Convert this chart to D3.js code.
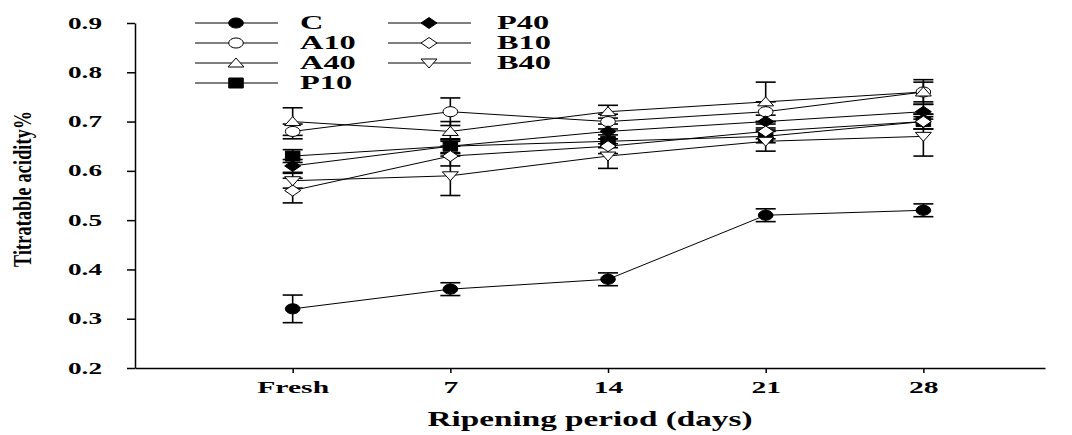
<!DOCTYPE html>
<html>
<head>
<meta charset="utf-8">
<script src="https://cdn.jsdelivr.net/npm/d3@7"></script>
<style>
  body { margin: 0; background: #fff; }
  text { font-family: "Liberation Serif", "DejaVu Serif", serif; font-weight: bold; fill: #000; }
</style>
</head>
<body>
<div id="chart"></div>
<script>
var svgWidth = 1072;
var svgHeight = 435;

// data
var days = [0, 7, 14, 21, 28];
var dayLabels = ["Fresh", "7", "14", "21", "28"];
var yTicks = [0.2, 0.3, 0.4, 0.5, 0.6, 0.7, 0.8, 0.9];

var seriesNames = ["C", "A10", "A40", "P10", "P40", "B10", "B40"];
var valC   = [0.32, 0.36, 0.38, 0.51, 0.52];
var valA10 = [0.68, 0.72, 0.70, 0.72, 0.76];
var valA40 = [0.70, 0.68, 0.72, 0.74, 0.76];
var valP10 = [0.63, 0.65, 0.66, 0.67, 0.70];
var valP40 = [0.61, 0.65, 0.68, 0.70, 0.72];
var valB10 = [0.56, 0.63, 0.65, 0.68, 0.70];
var valB40 = [0.58, 0.59, 0.63, 0.66, 0.67];

var errC   = [0.028, 0.013, 0.013, 0.013, 0.013];
var errA10 = [0.015, 0.028, 0.015, 0.020, 0.020];
var errA40 = [0.028, 0.020, 0.013, 0.040, 0.025];
var errP10 = [0.013, 0.013, 0.013, 0.013, 0.015];
var errP40 = [0.013, 0.015, 0.015, 0.013, 0.015];
var errB10 = [0.025, 0.020, 0.015, 0.015, 0.015];
var errB40 = [0.015, 0.040, 0.025, 0.020, 0.040];

// marker styles per series
var markerType = {
  C: "circle", A10: "circle", A40: "triangle", P10: "square",
  P40: "diamond", B10: "diamond", B40: "triangleDown"
};
var markerFilled = { C: true, A10: false, A40: false, P10: true, P40: true, B10: false, B40: false };

var allVals = { C: valC, A10: valA10, A40: valA40, P10: valP10, P40: valP40, B10: valB10, B40: valB40 };
var allErrs = { C: errC, A10: errA10, A40: errA40, P10: errP10, P40: errP40, B10: errB10, B40: errB40 };

var series = seriesNames.map(function(name) {
  return {
    name: name,
    points: days.map(function(d, i) {
      return { day: d, value: allVals[name][i], err: allErrs[name][i] };
    })
  };
});

var margin = { top: 23, right: 27, bottom: 67, left: 135 };
var width = svgWidth - margin.left - margin.right;
var height = svgHeight - margin.top - margin.bottom;

var svg = d3.select("#chart")
  .append("svg")
  .attr("width", svgWidth)
  .attr("height", svgHeight);

var chartGroup = svg.append("g")
  .attr("transform", `translate(${margin.left}, ${margin.top})`);

var xScale = d3.scaleLinear().domain([-7, 33.4]).range([0, width]);
var yScale = d3.scaleLinear().domain([0.2, 0.9]).range([height, 0]);

// the original picture is stretched sideways, so widen text to match
function stretch(sel, factor) {
  sel.each(function() {
    var len = this.getComputedTextLength();
    d3.select(this)
      .attr("textLength", len * factor)
      .attr("lengthAdjust", "spacingAndGlyphs");
  });
}

// axes
var bottomAxis = d3.axisBottom(xScale)
  .tickValues(days)
  .tickFormat(function(d, i) { return dayLabels[i]; })
  .tickSize(5)
  .tickSizeOuter(0)
  .tickPadding(9);
var leftAxis = d3.axisLeft(yScale)
  .tickValues(yTicks)
  .tickFormat(d3.format(".1f"))
  .tickSize(8)
  .tickSizeOuter(0)
  .tickPadding(25);

var xAxis = chartGroup.append("g")
  .attr("transform", `translate(0, ${height})`)
  .call(bottomAxis);
var yAxis = chartGroup.append("g").call(leftAxis);

[xAxis, yAxis].forEach(function(ax) {
  ax.select(".domain").attr("stroke", "#000").attr("stroke-width", 1.5);
  ax.selectAll(".tick line").attr("stroke", "#000").attr("stroke-width", 1.5);
  ax.selectAll(".tick text").attr("font-size", 16).attr("font-family", null).attr("fill", "#000");
});
stretch(xAxis.selectAll(".tick text"), 1.85);
stretch(yAxis.selectAll(".tick text"), 1.7);

// symbol path for each marker (drawn at unit aspect, then widened)
function markerPath(type) {
  if (type === "circle") return d3.symbol(d3.symbolCircle, 80)();
  if (type === "square") return "M-5,-5L5,-5L5,5L-5,5Z";
  if (type === "triangle" || type === "triangleDown") return "M0,-5L5.5,4L-5.5,4Z";
  return "M0,-5.5L5.5,0L0,5.5L-5.5,0Z";
}
function markerTransform(type, x, y) {
  if (type === "triangleDown") return `translate(${x},${y}) scale(1.45,-1)`;
  return `translate(${x},${y}) scale(1.45,1)`;
}

var line = d3.line()
  .x(function(p) { return xScale(p.day); })
  .y(function(p) { return yScale(p.value); });

// error bars
series.forEach(function(s) {
  var eb = chartGroup.append("g").attr("stroke", "#000").attr("stroke-width", 1.6);
  eb.selectAll("line.v").data(s.points).enter().append("line")
    .attr("x1", p => xScale(p.day)).attr("x2", p => xScale(p.day))
    .attr("y1", p => yScale(p.value - p.err)).attr("y2", p => yScale(p.value + p.err));
  eb.selectAll("line.top").data(s.points).enter().append("line")
    .attr("x1", p => xScale(p.day) - 10).attr("x2", p => xScale(p.day) + 10)
    .attr("y1", p => yScale(p.value + p.err)).attr("y2", p => yScale(p.value + p.err));
  eb.selectAll("line.bot").data(s.points).enter().append("line")
    .attr("x1", p => xScale(p.day) - 10).attr("x2", p => xScale(p.day) + 10)
    .attr("y1", p => yScale(p.value - p.err)).attr("y2", p => yScale(p.value - p.err));
});

// lines
series.forEach(function(s) {
  chartGroup.append("path")
    .datum(s.points)
    .attr("fill", "none")
    .attr("stroke", "#000")
    .attr("stroke-width", 1)
    .attr("d", line);
});

// markers
series.forEach(function(s) {
  var type = markerType[s.name];
  chartGroup.selectAll(null).data(s.points).enter().append("path")
    .attr("d", markerPath(type))
    .attr("transform", p => markerTransform(type, xScale(p.day), yScale(p.value)))
    .attr("fill", markerFilled[s.name] ? "#000" : "#fff")
    .attr("stroke", "#000")
    .attr("stroke-width", 1)
    .attr("vector-effect", "non-scaling-stroke");
});

// legend
var legendCols = [["C", "A10", "A40", "P10"], ["P40", "B10", "B40"]];
var legendX = [195, 388];
var legendTextX = [300, 497];
legendCols.forEach(function(col, ci) {
  col.forEach(function(name, ri) {
    var ly = 23 + ri * 20;
    var lx = legendX[ci];
    var type = markerType[name];
    svg.append("line")
      .attr("x1", lx).attr("x2", lx + 83)
      .attr("y1", ly).attr("y2", ly)
      .attr("stroke", "#000").attr("stroke-width", 1.2);
    svg.append("path")
      .attr("d", markerPath(type))
      .attr("transform", markerTransform(type, lx + 41, ly))
      .attr("fill", markerFilled[name] ? "#000" : "#fff")
      .attr("stroke", "#000").attr("stroke-width", 1)
      .attr("vector-effect", "non-scaling-stroke");
    var t = svg.append("text")
      .attr("x", legendTextX[ci]).attr("y", ly + 6)
      .attr("font-size", 18)
      .text(name);
    stretch(t, 1.8);
  });
});

// axis titles
svg.append("text")
  .attr("x", margin.left + width / 2)
  .attr("y", 426)
  .attr("text-anchor", "middle")
  .attr("font-size", 22)
  .attr("textLength", 325)
  .attr("lengthAdjust", "spacingAndGlyphs")
  .text("Ripening period (days)");

// y title: glyphs are tall (widened) and crowded together in the original
svg.append("text")
  .attr("transform", "translate(31,189) rotate(-90) scale(1,1.35)")
  .attr("x", 0)
  .attr("y", 0)
  .attr("text-anchor", "middle")
  .attr("font-size", 18)
  .attr("textLength", 156)
  .attr("lengthAdjust", "spacing")
  .text("Titratable acidity%");
</script>
</body>
</html>
